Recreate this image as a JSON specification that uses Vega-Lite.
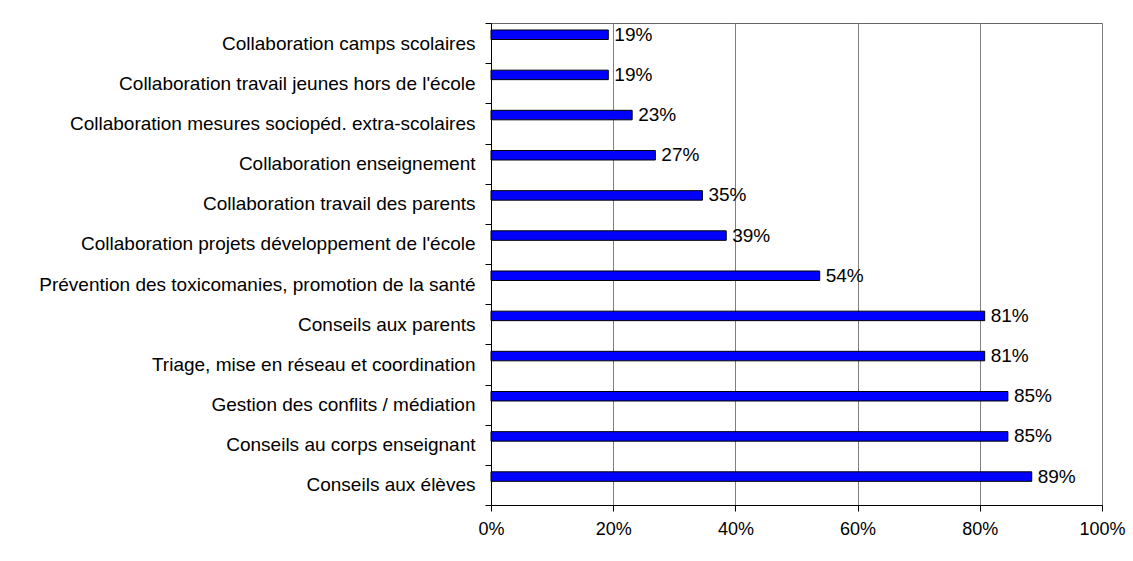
{
  "$schema": "https://vega.github.io/schema/vega-lite/v6.json",
  "width": 611,
  "height": 482,
  "autosize": {"type": "none"},
  "padding": {"left": 491, "top": 23, "right": 31, "bottom": 56},
  "background": "white",
  "config": {
    "font": "Liberation Sans",
    "view": {"stroke": "#666666", "strokeWidth": 1}
  },
  "data": {
    "values": [
      {"cat": "Collaboration camps scolaires", "v": 0.192, "label": "19%", "s": "a"},
      {"cat": "Collaboration travail jeunes hors de l'école", "v": 0.192, "label": "19%", "s": "a"},
      {"cat": "Collaboration mesures sociopéd. extra-scolaires", "v": 0.231, "label": "23%", "s": "a"},
      {"cat": "Collaboration enseignement", "v": 0.269, "label": "27%", "s": "a"},
      {"cat": "Collaboration travail des parents", "v": 0.346, "label": "35%", "s": "a"},
      {"cat": "Collaboration projets développement de l'école", "v": 0.385, "label": "39%", "s": "a"},
      {"cat": "Prévention des toxicomanies, promotion de la santé", "v": 0.538, "label": "54%", "s": "a"},
      {"cat": "Conseils aux parents", "v": 0.808, "label": "81%", "s": "a"},
      {"cat": "Triage, mise en réseau et coordination ", "v": 0.808, "label": "81%", "s": "a"},
      {"cat": "Gestion des conflits / médiation", "v": 0.846, "label": "85%", "s": "a"},
      {"cat": "Conseils au corps enseignant", "v": 0.846, "label": "85%", "s": "a"},
      {"cat": "Conseils aux élèves", "v": 0.885, "label": "89%", "s": "a"}
    ]
  },
  "encoding": {
    "y": {
      "field": "cat",
      "type": "nominal",
      "sort": null,
      "scale": {"paddingInner": 0, "paddingOuter": 0},
      "axis": {
        "title": null,
        "tickBand": "extent",
        "labelFontSize": 19,
        "labelColor": "black",
        "labelPadding": 10,
        "labelLimit": 0,
        "tickSize": 6,
        "tickColor": "black",
        "domainColor": "black",
        "grid": false
      }
    },
    "yOffset": {
      "field": "s",
      "type": "nominal",
      "scale": {"domain": ["a", "b"], "paddingInner": 0.431, "paddingOuter": 0.419}
    }
  },
  "layer": [
    {
      "mark": {"type": "bar", "fill": "#0000FF", "stroke": "black", "strokeWidth": 1},
      "encoding": {
        "x": {
          "field": "v",
          "type": "quantitative",
          "scale": {"domain": [0, 1], "nice": false},
          "axis": {
            "title": null,
            "values": [0, 0.2, 0.4, 0.6, 0.8, 1],
            "format": ".0%",
            "labelFontSize": 18,
            "labelColor": "black",
            "labelPadding": 9,
            "tickSize": 6,
            "tickColor": "black",
            "domainColor": "black",
            "gridColor": "#808080",
            "gridOpacity": 1,
            "labelFlush": false
          }
        }
      }
    },
    {
      "mark": {"type": "text", "align": "left", "baseline": "middle", "dx": 6, "fontSize": 19, "color": "black"},
      "encoding": {
        "x": {"field": "v", "type": "quantitative"},
        "text": {"field": "label"}
      }
    }
  ]
}
